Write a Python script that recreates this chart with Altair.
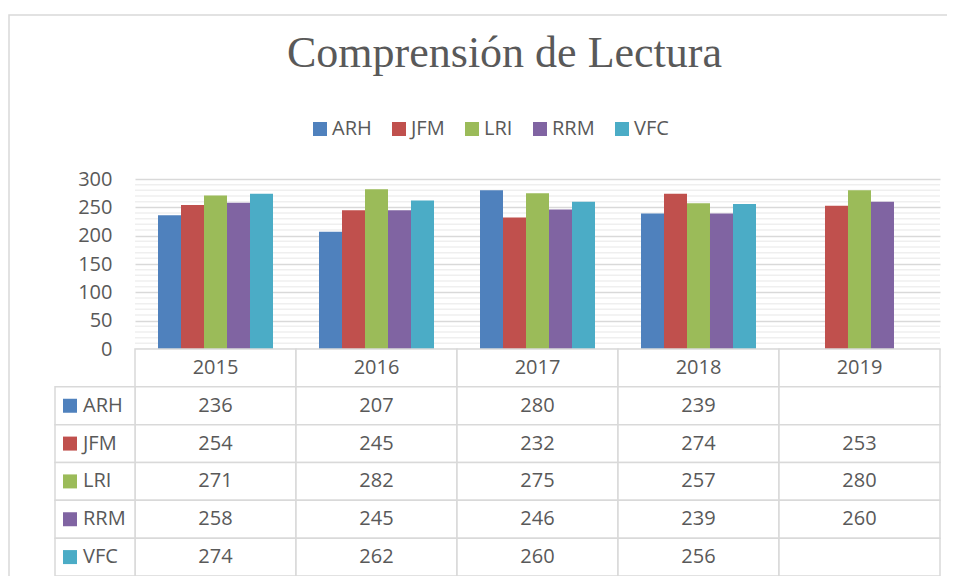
import altair as alt
import pandas as pd

# ---- data ----
years = ["2015", "2016", "2017", "2018", "2019"]
series = ["ARH", "JFM", "LRI", "RRM", "VFC"]
colors = ["#4F81BD", "#C0504D", "#9BBB59", "#8064A2", "#4BACC6"]
arh = [236, 207, 280, 239, None]
jfm = [254, 245, 232, 274, 253]
lri = [271, 282, 275, 257, 280]
rrm = [258, 245, 246, 239, 260]
vfc = [274, 262, 260, 256, None]
y_ticks = [0, 50, 100, 150, 200, 250, 300]
minor_ticks = [10, 20, 30, 40, 60, 70, 80, 90, 110, 120, 130, 140,
               160, 170, 180, 190, 210, 220, 230, 240, 260, 270, 280, 290]

values_by_series = {"ARH": arh, "JFM": jfm, "LRI": lri, "RRM": rrm, "VFC": vfc}

rows = []
for s in series:
    for yr, v in zip(years, values_by_series[s]):
        if v is not None:
            rows.append({"anio": yr, "serie": s, "valor": v})
df = pd.DataFrame(rows)

row_domain = ["header"] + series
cells_df = pd.DataFrame([{"anio": yr, "fila": r} for r in row_domain for yr in years])
text_rows = [{"anio": yr, "fila": "header", "texto": yr} for yr in years]
for s in series:
    for yr, v in zip(years, values_by_series[s]):
        if v is not None:
            text_rows.append({"anio": yr, "fila": s, "texto": str(v)})
text_df = pd.DataFrame(text_rows)
label_df = pd.DataFrame({"fila": series, "serie": series})
frame_df = pd.DataFrame({"k": [0]})

GRAY = "#595959"
LINE = "#d9d9d9"
FONT = "Open Sans"

color_scale = alt.Scale(domain=series, range=colors)
legend = alt.Legend(orient="none", legendX=175, legendY=-60, direction="horizontal",
                    title=None, symbolType="square", symbolSize=196, symbolStrokeWidth=0,
                    labelFont=FONT, labelFontSize=20, labelColor=GRAY,
                    columnPadding=17, labelOffset=2)

y_axis = alt.Axis(values=y_ticks, title=None, domain=False, ticks=False, grid=True,
                  gridColor=LINE, gridWidth=1.5, labelFont=FONT, labelFontSize=20,
                  labelColor=GRAY, labelPadding=23)
y_bar = alt.Y("valor:Q", scale=alt.Scale(domain=[0, 300], nice=False), axis=y_axis)

minor = alt.Chart(pd.DataFrame({"valor": minor_ticks})).mark_rule(
    color="#efefef", strokeWidth=1.5).encode(y=y_bar)

bars = alt.Chart(df).mark_bar().encode(
    x=alt.X("anio:N", scale=alt.Scale(domain=years, paddingInner=0.2857, paddingOuter=0.1429),
            axis=None),
    xOffset=alt.XOffset("serie:N", scale=alt.Scale(domain=series, paddingInner=0, paddingOuter=0)),
    y=y_bar,
    color=alt.Color("serie:N", scale=color_scale, legend=legend),
)

top = alt.layer(minor, bars)

table_x = alt.X("anio:N", scale=alt.Scale(domain=years, paddingInner=0, paddingOuter=0), axis=None)
table_y = alt.Y("fila:N", scale=alt.Scale(domain=row_domain, range=[170, 397],
                                          paddingInner=0, paddingOuter=0), axis=None)

border = alt.Chart(frame_df).mark_rect(fill="white", fillOpacity=0, stroke=LINE,
                                       strokeWidth=1.5).encode(
    x=alt.value(-126), x2=alt.value(900), y=alt.value(-164), y2=alt.value(500))

cells = alt.Chart(cells_df).mark_rect(fill="white", stroke=LINE, strokeWidth=1.5).encode(
    x=table_x, y=table_y)
cell_text = alt.Chart(text_df).mark_text(font=FONT, fontSize=20, color=GRAY).encode(
    x=table_x, y=table_y, text="texto:N")
label_cells = alt.Chart(label_df).mark_rect(fill="white", stroke=LINE, strokeWidth=1.5).encode(
    x=alt.value(-80), x2=alt.value(0), y=table_y)
label_sq = alt.Chart(label_df).mark_square(size=196, opacity=1).encode(
    x=alt.value(-65), y=table_y, color=alt.Color("serie:N", scale=color_scale, legend=legend))
label_text = alt.Chart(label_df).mark_text(align="left", font=FONT, fontSize=20, color=GRAY).encode(
    x=alt.value(-52), y=table_y, text="fila:N")

table = alt.layer(border, cells, cell_text, label_cells, label_sq, label_text)

chart = alt.layer(top, table).resolve_scale(x="independent", y="independent").properties(
    width=805, height=170,
    title=alt.Title("Comprensión de Lectura", font="Liberation Serif", fontSize=44,
                    fontWeight="normal", color=GRAY, anchor="middle", frame="group",
                    dx=-33, offset=-62),
    autosize=alt.AutoSizeParams(type="none"),
    padding={"left": 127, "top": 171, "right": 7, "bottom": 227},
).configure_view(strokeWidth=0)

chart.save("out.html", embed_options={"renderer": "svg", "actions": False})
